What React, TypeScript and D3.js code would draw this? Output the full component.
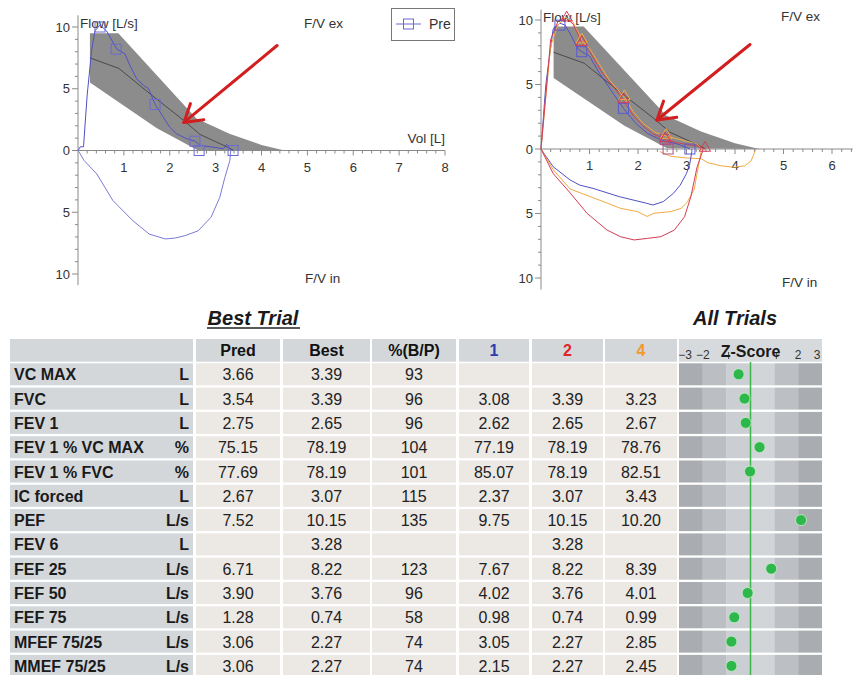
import { useEffect, useRef } from "react";
import * as d3 from "d3";

type Pt = [number, number];

const FONT = "'Liberation Sans', Arial, Helvetica, sans-serif";

// predicted normal range and predicted mean curve (vol L, flow L/s)
const predBand: Pt[] = [
  [0.26, 9.5], [0.88, 9.5], [2.58, 2.6], [3.3, 1.35], [4.0, 0.45], [4.5, 0],
  [2.6, 0.05], [1.72, 1.8], [0.26, 5.5],
];
const predMean: Pt[] = [
  [0.26, 7.5], [0.89, 6.65], [1.6, 4.5], [2.3, 2.45], [2.66, 1.3], [3.24, 0.3], [3.4, 0],
];

// best trial ("Pre")
const preExp: Pt[] = [
  [0, 0], [0.05, 0.3], [0.12, 0.3], [0.2, 4.5], [0.3, 8.2], [0.37, 9.7], [0.48, 10.15],
  [0.62, 9.7], [0.8, 8.5], [0.85, 8.2], [1.02, 7.84], [1.13, 6.9], [1.28, 5.8],
  [1.43, 5.27], [1.54, 5.0], [1.68, 3.73], [1.86, 2.7], [2.0, 1.89], [2.15, 1.35],
  [2.37, 0.95], [2.55, 0.76], [2.66, 0.41], [2.95, 0.27], [3.17, 0.14], [3.24, 0.49],
  [3.31, 0.14], [3.38, 0],
];
const preInsp: Pt[] = [
  [0, 0], [0.02, -0.1], [0.13, -0.8], [0.41, -1.9], [0.76, -4.05], [1.2, -5.7],
  [1.55, -6.76], [1.9, -7.16], [2.1, -7.1], [2.33, -6.9], [2.62, -6.5], [2.9, -5.4],
  [3.09, -3.8], [3.2, -2.2], [3.31, -0.8], [3.33, 0],
];
const preMarks: Pt[] = [[0.48, 10.0], [0.83, 8.2], [1.68, 3.73], [2.55, 0.75], [2.64, 0], [3.38, 0]];

// all trials
const t1Exp: Pt[] = [
  [0, 0], [0.1, 5.0], [0.25, 9.3], [0.39, 9.75], [0.5, 9.6], [0.62, 8.8], [0.75, 7.8],
  [0.84, 7.54], [1.0, 7.2], [1.2, 5.9], [1.4, 4.8], [1.7, 3.15], [1.95, 2.0], [2.2, 1.2],
  [2.45, 0.75], [2.56, 0.6], [2.8, 0.4], [2.95, 0.2], [3.07, 0],
];
const t1Insp: Pt[] = [
  [0, 0], [0.25, -1.37], [0.6, -2.4], [0.8, -2.8], [1.07, -3.05], [1.62, -3.7],
  [2.17, -4.2], [2.31, -4.34], [2.52, -4.08], [2.73, -3.44], [2.87, -2.8], [3.0, -1.9],
  [3.07, -1.12], [3.11, -0.2], [3.11, 0],
];
const t1Marks: Pt[] = [[0.39, 9.6], [0.84, 7.54], [1.7, 3.15], [3.07, 0]];

const t2Exp: Pt[] = [
  [0, 0], [0.2, 8.5], [0.35, 9.9], [0.53, 10.1], [0.66, 9.7], [0.8, 8.6], [0.84, 8.2],
  [1.0, 7.6], [1.15, 6.6], [1.3, 5.7], [1.5, 4.8], [1.7, 3.76], [1.9, 2.6], [2.1, 1.8],
  [2.3, 1.2], [2.56, 0.74], [2.8, 0.5], [3.0, 0.35], [3.2, 0.25], [3.38, 0],
];
const t2Insp: Pt[] = [
  [0, 0], [0.25, -1.9], [0.6, -3.4], [0.95, -4.99], [1.36, -6.28], [1.64, -6.8],
  [1.92, -7.05], [2.19, -6.93], [2.47, -6.8], [2.75, -6.28], [2.96, -5.25], [3.09, -3.7],
  [3.22, -1.37], [3.33, -0.2], [3.34, 0],
];
const t2Marks: Pt[] = [[0.53, 10.1], [0.84, 8.2], [1.7, 3.76], [2.56, 0.74], [3.38, 0]];
const t2Squares: Pt[] = [[2.56, 0.74], [2.62, 0]];

const t4Exp: Pt[] = [
  [0, 0], [0.2, 8.0], [0.35, 9.6], [0.5, 10.2], [0.65, 9.9], [0.8, 8.8], [0.84, 8.4],
  [1.0, 7.8], [1.2, 6.6], [1.4, 5.4], [1.72, 4.0], [1.9, 2.9], [2.1, 2.0], [2.35, 1.3],
  [2.58, 1.0], [2.8, 0.8], [3.0, 0.6], [3.2, 0.4], [3.3, 0.1], [3.32, 0],
];
const t4Insp: Pt[] = [
  [0, 0], [0.25, -1.6], [0.6, -3.1], [0.95, -3.6], [1.3, -4.1], [1.64, -4.6],
  [1.99, -4.85], [2.19, -5.23], [2.33, -4.98], [2.68, -4.85], [2.89, -4.6], [3.02, -4.1],
  [3.16, -3.1], [3.26, -1.03], [3.3, -0.2], [3.3, 0],
];
const t4Tail: Pt[] = [
  [2.45, -0.2], [2.68, -0.57], [3.02, -0.7], [3.3, -0.75], [3.44, -1.06], [3.71, -1.3],
  [3.99, -1.42], [4.2, -1.3], [4.33, -0.93], [4.4, -0.3], [4.43, 0],
];
const t4Marks: Pt[] = [[0.84, 8.4], [1.72, 4.0], [2.58, 1.0]];

// arrows (tail, tip)
const leftArrow: [Pt, Pt] = [[4.34, 8.5], [2.31, 2.27]];
const rightArrow: [Pt, Pt] = [[4.31, 8.1], [2.39, 2.25]];

// table
const rowLabels = [
  "VC MAX", "FVC", "FEV 1", "FEV 1 % VC MAX", "FEV 1 % FVC", "IC forced", "PEF",
  "FEV 6", "FEF 25", "FEF 50", "FEF 75", "MFEF 75/25", "MMEF 75/25",
];
const rowUnits = ["L", "L", "L", "%", "%", "L", "L/s", "L", "L/s", "L/s", "L/s", "L/s", "L/s"];
const predVals = [3.66, 3.54, 2.75, 75.15, 77.69, 2.67, 7.52, null, 6.71, 3.9, 1.28, 3.06, 3.06];
const bestVals = [3.39, 3.39, 2.65, 78.19, 78.19, 3.07, 10.15, 3.28, 8.22, 3.76, 0.74, 2.27, 2.27];
const pctVals = [93, 96, 96, 104, 101, 115, 135, null, 123, 96, 58, 74, 74];
const trial1Vals = [null, 3.08, 2.62, 77.19, 85.07, 2.37, 9.75, null, 7.67, 4.02, 0.98, 3.05, 2.15];
const trial2Vals = [null, 3.39, 2.65, 78.19, 78.19, 3.07, 10.15, 3.28, 8.22, 3.76, 0.74, 2.27, 2.27];
const trial4Vals = [null, 3.23, 2.67, 78.76, 82.51, 3.43, 10.2, null, 8.39, 4.01, 0.99, 2.85, 2.45];
const zScores = [-0.5, -0.25, -0.2, 0.38, -0.02, null, 2.12, null, 0.87, -0.12, -0.68, -0.8, -0.8];
const zTicks = [-3, -2, 2, 3];

const BLUE = "#5050c8";
const RED = "#d43c55";
const ORANGE = "#f3aa40";

function drawArrow(g: any, a: Pt, b: Pt, x: any, y: any) {
  const x1 = x(a[0]), y1 = y(a[1]), x2 = x(b[0]), y2 = y(b[1]);
  const ang = Math.atan2(y1 - y2, x1 - x2);
  const len = 20;
  const col = "#d21e1e";
  g.append("line").attr("x1", x1).attr("y1", y1).attr("x2", x2).attr("y2", y2)
    .style("stroke", col).style("stroke-width", 3).style("stroke-linecap", "round");
  [-0.55, 0.55].forEach((d) => {
    g.append("line").attr("x1", x2).attr("y1", y2)
      .attr("x2", x2 + len * Math.cos(ang + d)).attr("y2", y2 + len * Math.sin(ang + d))
      .style("stroke", col).style("stroke-width", 3).style("stroke-linecap", "round");
  });
}

function drawChart(svg: any, cfg: any) {
  const { x, y, xEnd, yTop, yBot, xLabels } = cfg;
  const g = svg.append("g");
  const poly = (pts: Pt[]) => "M" + pts.map((p) => `${x(p[0])},${y(p[1])}`).join("L") + "Z";

  g.append("path").attr("d", poly(predBand)).style("fill", "#8c8c8c");
  const line = d3.line<Pt>().x((d) => x(d[0])).y((d) => y(d[1]));
  g.append("path").attr("d", line(predMean)).style("fill", "none")
    .style("stroke", "#4a4a4a").style("stroke-width", 1);

  // axes
  const axisCol = "#8a8a8a";
  g.append("line").attr("x1", x(0)).attr("x2", x(0)).attr("y1", y(yTop)).attr("y2", y(yBot))
    .style("stroke", axisCol).style("stroke-width", 1);
  g.append("line").attr("x1", x(0)).attr("x2", x(xEnd)).attr("y1", y(0)).attr("y2", y(0))
    .style("stroke", axisCol).style("stroke-width", 1);
  d3.range(-10, 11).forEach((v) => {
    const major = v % 5 === 0;
    g.append("line").attr("x1", x(0) - (major ? 6 : 3)).attr("x2", x(0))
      .attr("y1", y(v)).attr("y2", y(v)).style("stroke", axisCol);
  });
  d3.range(1, Math.floor(xEnd * 5) + 1).forEach((i) => {
    const v = i / 5;
    const major = i % 5 === 0;
    g.append("line").attr("x1", x(v)).attr("x2", x(v))
      .attr("y1", y(0)).attr("y2", y(0) + (major ? 5 : 3)).style("stroke", axisCol);
  });
  [10, 5, 0, -5, -10].forEach((v) => {
    g.append("text").attr("x", x(0) - 8).attr("y", y(v) + 4.5).attr("text-anchor", "end")
      .style("font-family", FONT).style("font-size", "13px").style("fill", "#333")
      .text(Math.abs(v));
  });
  xLabels.forEach((v: number) => {
    g.append("text").attr("x", x(v)).attr("y", y(0) + 21).attr("text-anchor", "middle")
      .style("font-family", FONT).style("font-size", "13px").style("fill", "#333").text(v);
  });
  cfg.texts.forEach((t: any) => {
    g.append("text").attr("x", t.x).attr("y", t.y).attr("text-anchor", t.anchor || "start")
      .style("font-family", FONT).style("font-size", "13.5px").style("fill", "#333").text(t.s);
  });

  const curve = (pts: Pt[], col: string) =>
    g.append("path").attr("d", line(pts)).style("fill", "none")
      .style("stroke", col).style("stroke-width", 1).style("stroke-linejoin", "round");
  cfg.curves.forEach((c: any) => curve(c.pts, c.col));

  const squares = (pts: Pt[], col: string) =>
    g.selectAll(null).data(pts).enter().append("rect")
      .attr("x", (d: Pt) => x(d[0]) - 5).attr("y", (d: Pt) => y(d[1]) - 5)
      .attr("width", 10).attr("height", 10)
      .style("fill", "none").style("stroke", col).style("stroke-width", 1);
  const tris = (pts: Pt[], col: string) =>
    g.selectAll(null).data(pts).enter().append("path")
      .attr("d", d3.symbol(d3.symbolTriangle, 55)())
      .attr("transform", (d: Pt) => `translate(${x(d[0])},${y(d[1]) - 1})`)
      .style("fill", "none").style("stroke", col).style("stroke-width", 1);
  (cfg.squares || []).forEach((m: any) => squares(m.pts, m.col));
  (cfg.tris || []).forEach((m: any) => tris(m.pts, m.col));

  drawArrow(g, cfg.arrow[0], cfg.arrow[1], x, y);
  return g;
}

export default function App() {
  const svgRef = useRef<SVGSVGElement>(null);

  useEffect(() => {
    if (!svgRef.current) return;
    const svg = d3.select(svgRef.current);
    svg.selectAll("*").remove();

    // ---- left chart (best trial)
    const xL = d3.scaleLinear().domain([0, 8]).range([78, 445]);
    const yL = d3.scaleLinear().domain([-10, 10]).range([274, 27]);
    drawChart(svg, {
      x: xL, y: yL, xEnd: 8, yTop: 10.95, yBot: -10.9,
      xLabels: d3.range(1, 9),
      texts: [
        { x: 80, y: 28, s: "Flow [L/s]" },
        { x: 304, y: 28, s: "F/V ex" },
        { x: 445, y: 143, s: "Vol [L]", anchor: "end" },
        { x: 305, y: 283, s: "F/V in" },
      ],
      curves: [{ pts: preInsp, col: "#7a7ad6" }, { pts: preExp, col: BLUE }],
      squares: [{ pts: preMarks, col: "#6a6ad2" }],
      arrow: leftArrow,
    });

    // legend
    const lg = svg.append("g");
    lg.append("rect").attr("x", 391.5).attr("y", 8.5).attr("width", 63).attr("height", 32)
      .style("fill", "#fff").style("stroke", "#777").style("stroke-width", 1);
    lg.append("line").attr("x1", 396).attr("x2", 421).attr("y1", 24).attr("y2", 24)
      .style("stroke", "#6a6ad2");
    lg.append("rect").attr("x", 403.5).attr("y", 19).attr("width", 10).attr("height", 10)
      .style("fill", "none").style("stroke", "#6a6ad2");
    lg.append("text").attr("x", 429).attr("y", 29).style("font-family", FONT)
      .style("font-size", "14px").style("fill", "#333").text("Pre");

    // ---- right chart (all trials)
    const xR = d3.scaleLinear().domain([0, 6]).range([541, 832]);
    const yR = d3.scaleLinear().domain([-10, 10]).range([278, 20]);
    drawChart(svg, {
      x: xR, y: yR, xEnd: 6.43, yTop: 10.8, yBot: -10.9,
      xLabels: d3.range(1, 7),
      texts: [
        { x: 543, y: 22, s: "Flow [L/s]" },
        { x: 781, y: 21, s: "F/V ex" },
        { x: 782, y: 287, s: "F/V in" },
      ],
      curves: [
        { pts: t4Tail, col: ORANGE },
        { pts: t1Insp, col: BLUE },
        { pts: t4Insp, col: ORANGE },
        { pts: t2Insp, col: RED },
        { pts: t1Exp, col: BLUE },
        { pts: t4Exp, col: ORANGE },
        { pts: t2Exp, col: RED },
      ],
      squares: [{ pts: t1Marks, col: "#5a5ad0" }, { pts: t2Squares, col: "#b0508a" }],
      tris: [{ pts: t4Marks, col: ORANGE }, { pts: t2Marks, col: RED }],
      arrow: rightArrow,
    });

    // ---- table
    const t = svg.append("g");
    const cols = [
      { x0: 10, x1: 193 }, { x0: 196, x1: 280 }, { x0: 283, x1: 370 }, { x0: 372, x1: 456 },
      { x0: 459, x1: 529 }, { x0: 532, x1: 603 }, { x0: 605, x1: 677 },
    ];
    const zc = { x0: 679, x1: 822 };
    const headTop = 339, headH = 22.7, rowTop = 363.3, pitch = 24.3, rowH = 22;
    const headers = [
      { s: "", c: "#111" }, { s: "Pred", c: "#111" }, { s: "Best", c: "#111" },
      { s: "%(B/P)", c: "#111" }, { s: "1", c: "#2b3bb0" }, { s: "2", c: "#e0242a" },
      { s: "4", c: "#f3992c" },
    ];
    const txt = (xx: number, yy: number, s: string, o: any = {}) =>
      t.append("text").attr("x", xx).attr("y", yy).attr("text-anchor", o.anchor || "middle")
        .style("font-family", FONT).style("font-size", o.size || "16px")
        .style("font-weight", o.bold ? "bold" : "normal")
        .style("font-style", o.italic ? "italic" : "normal")
        .style("fill", o.fill || "#1a1a1a").text(s);

    // titles
    txt(253, 325, "Best Trial", { bold: true, italic: true, size: "20px" });
    t.append("line").attr("x1", 207).attr("x2", 300).attr("y1", 328).attr("y2", 328)
      .style("stroke", "#222").style("stroke-width", 1.5);
    txt(735, 325, "All Trials", { bold: true, italic: true, size: "20px" });

    cols.forEach((c, i) => {
      t.append("rect").attr("x", c.x0).attr("y", headTop).attr("width", c.x1 - c.x0)
        .attr("height", headH).style("fill", "#d3d7da");
      if (headers[i].s) txt((c.x0 + c.x1) / 2, headTop + 17, headers[i].s, { bold: true, fill: headers[i].c });
    });
    t.append("rect").attr("x", zc.x0).attr("y", headTop).attr("width", zc.x1 - zc.x0)
      .attr("height", headH).style("fill", "#d6dadd");

    const zx = d3.scaleLinear().domain([-3, 3]).range([zc.x0, zc.x1]);
    const bandCols = ["#a9acb0", "#bbbec2", "#cbcfd3", "#d2d5d8", "#bcbfc3", "#a9acb0"];
    const f2 = d3.format(".2f");
    const valueCols = [predVals, bestVals, pctVals, trial1Vals, trial2Vals, trial4Vals];

    rowLabels.forEach((lab, r) => {
      const top = rowTop + r * pitch;
      const base = top + 17;
      cols.forEach((c, i) => {
        t.append("rect").attr("x", c.x0).attr("y", top).attr("width", c.x1 - c.x0)
          .attr("height", rowH).style("fill", i === 0 ? "#d3d7da" : "#ece8e4");
      });
      txt(14, base, lab, { bold: true, anchor: "start" });
      txt(189, base, rowUnits[r], { bold: true, anchor: "end" });
      valueCols.forEach((vals, i) => {
        const v = vals[r];
        if (v === null) return;
        const c = cols[i + 1];
        txt((c.x0 + c.x1) / 2, base, i === 2 ? String(v) : f2(v as number), { fill: "#222" });
      });
      d3.range(-3, 3).forEach((b, bi) => {
        t.append("rect").attr("x", zx(b)).attr("y", top).attr("width", zx(b + 1) - zx(b))
          .attr("height", rowH).style("fill", bandCols[bi]);
      });
    });

    // z-score header
    zTicks.forEach((v) => {
      const px = v === -3 ? zx(v) + 6 : v === 3 ? zx(v) - 5 : zx(v);
      txt(px, 359, String(v).replace("-", "\u2212"), { size: "12px", fill: "#333" });
    });
    [-1, 1].forEach((v) => {
      t.append("line").attr("x1", zx(v) + 2).attr("x2", zx(v) + 2).attr("y1", 352).attr("y2", 359)
        .style("stroke", "#444").style("stroke-width", 1);
    });
    txt(zx(0), 357, "Z-Score", { bold: true });

    t.append("line").attr("x1", zx(0)).attr("x2", zx(0)).attr("y1", 362).attr("y2", 675)
      .style("stroke", "#3cb54a").style("stroke-width", 1.5);

    t.selectAll(null).data(zScores.map((z, r) => ({ z, r })).filter((d) => d.z !== null))
      .enter().append("circle")
      .attr("cx", (d: any) => zx(d.z)).attr("cy", (d: any) => rowTop + d.r * pitch + 11)
      .attr("r", 5.5).style("fill", "#2eb84b").style("stroke", "#c9eec9").style("stroke-width", 0.8);
  }, []);

  return (
    <svg
      ref={svgRef}
      width={854}
      height={675}
      style={{ position: "absolute", left: 0, top: 0, background: "#fff" }}
    />
  );
}
